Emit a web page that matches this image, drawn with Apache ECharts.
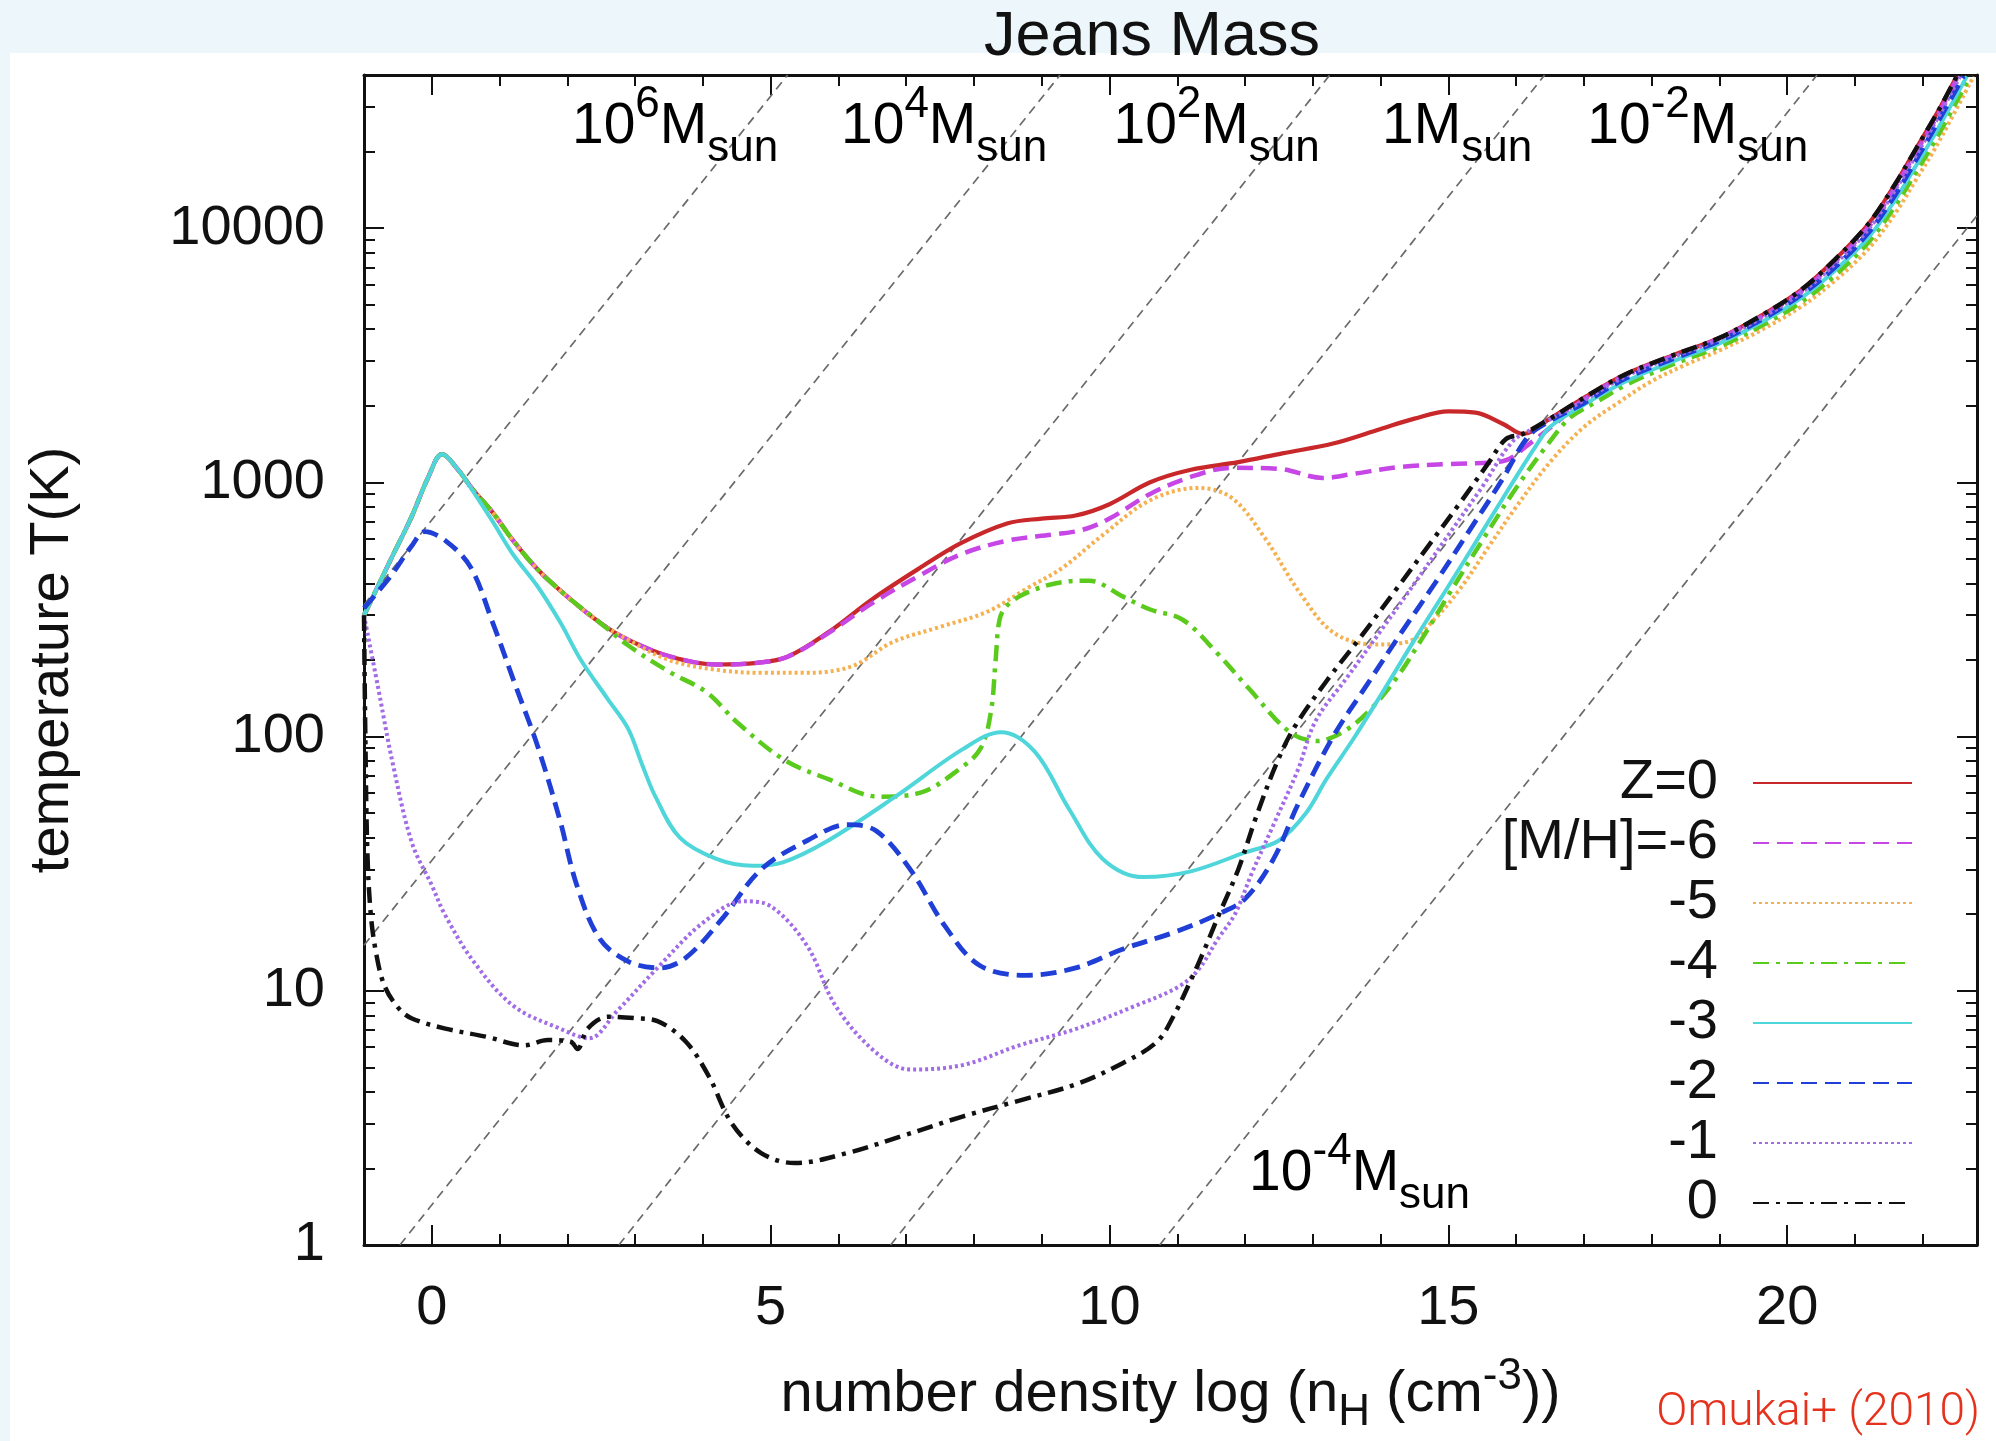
<!DOCTYPE html>
<html><head><meta charset="utf-8">
<script src="https://cdn.jsdelivr.net/npm/echarts@6/dist/echarts.min.js"></script>
<style>
html,body{margin:0;padding:0;background:#edf6fa;width:1996px;height:1441px;overflow:hidden;}
#paper{position:absolute;left:10px;top:53px;width:1986px;height:1388px;background:#fff;}
#chart{position:absolute;left:0;top:0;width:1996px;height:1441px;}
</style></head><body>
<div id="paper"></div><div id="chart"></div>
<script>
// ---------- axis ranges & ticks ----------
const xMin = -1, xMax = 22.8, yMin = 1, yMax = 40000;
const xMajorTicks = [0, 5, 10, 15, 20];
const xMinorTicks = [0,1,2,3,4,5,6,7,8,9,10,11,12,13,14,15,16,17,18,19,20,21,22];
const yMajorTicks = [1, 10, 100, 1000, 10000];
const yMinorTicks = [2,3,4,5,6,7,8,9,20,30,40,50,60,70,80,90,200,300,400,500,600,700,800,900,
  2000,3000,4000,5000,6000,7000,8000,9000,20000,30000];

// ---------- series (log nH, T) ----------
const seriesNames = ['Z=0', '[M/H]=-6', '-5', '-4', '-3', '-2', '-1', '0'];

const zZero = [[-1,300],[-0.6,500],[-0.3,730],[-0.05,1050],[0.15,1290],[0.4,1110],[0.6,940],[0.9,760],[1.2,590],[1.56,455],[2.0,355],[2.5,278],[2.9,240],[3.5,207],[4.2,192],[4.8,195],[5.25,206],[5.85,257],[6.5,347],[7.2,460],[7.8,575],[8.5,690],[9.0,720],[9.5,740],[10.0,820],[10.6,1000],[11.2,1120],[11.9,1200],[12.55,1300],[13.3,1420],[14.0,1620],[14.5,1780],[15.0,1900],[15.4,1880],[15.8,1700],[16.1,1550],[16.5,1780],[17.0,2150],[17.6,2650],[18.3,3150],[19.0,3700],[19.6,4500],[20.2,5700],[20.7,7500],[21.2,10400],[21.6,15000],[21.9,20500],[22.2,28000],[22.5,39500]];

const mhM6 = [[-1,300],[-0.6,500],[-0.3,730],[-0.05,1050],[0.15,1290],[0.4,1110],[0.6,940],[0.9,760],[1.2,590],[1.56,455],[2.0,355],[2.5,278],[2.9,240],[3.5,207],[4.2,192],[4.8,195],[5.25,206],[5.85,255],[6.5,335],[7.2,430],[7.8,520],[8.5,590],[9.2,625],[9.6,650],[10.0,720],[10.6,900],[11.2,1050],[11.8,1140],[12.5,1130],[13.15,1040],[13.6,1080],[14.3,1150],[15.0,1180],[15.8,1210],[16.2,1420],[16.6,1720],[17.0,2120],[17.6,2630],[18.3,3120],[19.0,3680],[19.6,4450],[20.2,5620],[20.7,7350],[21.2,10100],[21.6,14600],[21.9,19900],[22.2,27200],[22.52,39500]];

const mhM5 = [[-1,300],[-0.6,500],[-0.3,730],[-0.05,1050],[0.15,1290],[0.4,1110],[0.6,940],[0.9,760],[1.2,590],[1.56,455],[2.0,355],[2.5,278],[2.9,240],[3.5,200],[4.2,183],[4.9,178],[5.5,178],[6.2,189],[6.8,235],[7.5,270],[8.2,310],[8.8,385],[9.3,460],[9.9,620],[10.6,850],[11.3,950],[11.8,870],[12.3,600],[12.8,370],[13.3,257],[13.9,230],[14.4,236],[14.8,290],[15.2,390],[15.6,560],[16.0,800],[16.5,1200],[17.0,1650],[17.5,2050],[18.0,2500],[18.5,2900],[19.0,3300],[19.6,3950],[20.2,4900],[20.7,6200],[21.2,8300],[21.6,11500],[21.9,15500],[22.2,21000],[22.75,39500]];

const mhM4 = [[-1,300],[-0.6,500],[-0.3,730],[-0.05,1050],[0.15,1290],[0.4,1110],[0.6,940],[0.9,760],[1.2,590],[1.56,455],[2.0,355],[2.5,278],[2.9,228],[3.5,180],[4.06,149],[4.5,114],[5.2,81],[5.85,68],[6.6,58],[7.2,60],[7.8,75],[8.1,90],[8.25,125],[8.32,200],[8.38,290],[8.5,330],[8.8,370],[9.3,405],[9.7,410],[10.2,355],[10.6,316],[11.08,288],[11.58,214],[12.07,153],[12.66,104],[13.06,96],[13.44,104],[13.8,124],[14.2,165],[14.6,240],[15.0,360],[15.5,590],[16.0,950],[16.5,1450],[16.8,1800],[17.2,2080],[17.6,2400],[18.3,2900],[19.0,3420],[19.6,4100],[20.2,5100],[20.7,6500],[21.2,8800],[21.6,12300],[21.9,16600],[22.2,22500],[22.7,39500]];

const mhM3 = [[-1,300],[-0.6,500],[-0.3,730],[-0.05,1050],[0.15,1290],[0.4,1110],[0.6,930],[0.9,700],[1.2,520],[1.56,390],[1.9,280],[2.2,200],[2.6,140],[2.9,107],[3.1,78],[3.3,58],[3.66,40],[4.2,33],[4.73,31],[5.18,32],[5.85,39],[6.84,58],[7.83,89],[8.4,104],[8.9,87],[9.4,52],[9.9,33],[10.5,28],[11.2,29.5],[12.0,35],[12.5,39],[12.9,50],[13.2,68],[13.6,98],[14.0,145],[14.5,240],[15.0,390],[15.5,640],[16.0,1050],[16.3,1400],[16.5,1650],[17.0,2020],[17.6,2480],[18.3,2980],[19.0,3520],[19.6,4230],[20.2,5300],[20.7,6800],[21.2,9200],[21.6,13000],[21.9,17600],[22.2,24000],[22.65,39500]];

const mhM2 = [[-1,320],[-0.6,430],[-0.3,560],[-0.1,640],[0.2,590],[0.57,465],[0.9,280],[1.23,160],[1.56,92],[1.89,47],[2.14,26],[2.48,16],[2.91,13],[3.37,12.3],[3.75,13.5],[4.27,19],[4.86,30],[5.54,39],[6.13,45],[6.56,42.5],[7.06,30],[7.57,18],[8.08,12.6],[8.76,11.5],[9.5,12.3],[10.2,14.6],[10.96,17],[11.6,20],[12.0,23],[12.42,33],[12.78,54],[13.3,100],[13.8,160],[14.3,255],[14.8,400],[15.3,640],[15.8,1030],[16.1,1420],[16.3,1620],[17.0,2050],[17.6,2550],[18.3,3050],[19.0,3600],[19.6,4330],[20.2,5450],[20.7,7000],[21.2,9600],[21.6,13600],[21.9,18500],[22.2,25500],[22.6,39500]];

const mhM1 = [[-1,300],[-0.8,160],[-0.57,77],[-0.29,38],[0.0,26],[0.19,20],[0.62,13],[1.21,8.7],[1.89,7.1],[2.32,6.5],[2.73,8.3],[3.33,12.3],[4.0,18.5],[4.6,22.5],[5.0,21.5],[5.54,15],[5.96,8.7],[6.56,5.7],[7.06,4.9],[7.83,5.1],[8.67,6.1],[9.52,7.1],[10.37,8.7],[11.0,10.3],[11.3,12],[11.6,16],[11.85,20],[12.1,29],[12.42,45],[12.78,74],[13.04,115],[13.5,170],[14.0,260],[14.5,400],[15.0,620],[15.5,960],[15.95,1450],[16.3,1650],[17.0,2100],[17.6,2600],[18.3,3100],[19.0,3650],[19.6,4400],[20.2,5550],[20.7,7200],[21.2,9900],[21.6,14200],[21.9,19300],[22.2,26500],[22.55,39500]];

const mhZero = [[-1,300],[-0.98,100],[-0.95,35],[-0.9,20],[-0.82,14],[-0.7,10.5],[-0.5,8.6],[-0.3,7.8],[0.2,7.1],[0.8,6.6],[1.37,6.1],[1.71,6.4],[2.05,6.3],[2.15,5.9],[2.3,7.1],[2.6,7.9],[3.0,7.8],[3.33,7.6],[3.75,6.3],[4.09,4.6],[4.43,3.0],[4.86,2.3],[5.36,2.1],[6.13,2.3],[6.97,2.7],[7.83,3.2],[8.67,3.7],[9.52,4.3],[10.2,5.2],[10.7,6.3],[10.95,8],[11.2,11],[11.4,14.5],[11.6,19.5],[11.9,30],[12.16,48],[12.47,79],[12.73,109],[13.2,165],[13.7,245],[14.2,370],[14.7,560],[15.2,850],[15.6,1200],[15.85,1480],[16.1,1550],[16.5,1780],[17.0,2150],[17.6,2650],[18.3,3150],[19.0,3700],[19.6,4500],[20.2,5700],[20.7,7500],[21.2,10400],[21.6,15000],[21.9,20500],[22.2,28000],[22.5,39500]];

const seriesData = [zZero, mhM6, mhM5, mhM4, mhM3, mhM2, mhM1, mhZero];

// ---------- Jeans-mass reference lines (end points) ----------
const jeansLines = [
  [[-1, 330], [5.25, 40000]],
  [[-1, 15.1], [9.27, 40000]],
  [[-0.47, 1], [13.25, 40000]],
  [[2.76, 1], [16.42, 40000]],
  [[6.77, 1], [20.44, 40000]],
  [[10.74, 1], [22.8, 11200]]
];
const jeansLabelX = [3.59, 7.56, 11.58, 15.13, 18.68, 13.69];
const jeansLabelT = [24900, 24900, 24900, 24900, 24900, 1.9];
const jeansLabelBase = ['10', '10', '10', '1', '10', '10'];
const jeansLabelExp = ['6', '4', '2', '', '-2', '-4'];

// ---------- styles ----------
const FONT = 'Liberation Sans';
const INK = '#111111';
const lineStyles = [
  {color:'#c8282a', type:'solid', width:4.2},
  {color:'#c646e6', type:[16,8], width:4.5},
  {color:'#f5b150', type:[3,3], width:4},
  {color:'#5acb1c', type:[16,7,4,7], width:4.5},
  {color:'#4fd6da', type:'solid', width:4},
  {color:'#1f3fd6', type:[16,8], width:4.8},
  {color:'#a26ce6', type:[3,3], width:4},
  {color:'#111111', type:[16,7,4,7], width:4.5}
];

function xAxisCfg(position, ticks, len, showLine, showLabel) {
  return {
    type:'value', position, min:xMin, max:xMax,
    axisLine:{show:showLine, onZero:false, lineStyle:{color:INK, width:3}},
    axisTick:{show:true, inside:true, length:len, customValues:ticks, lineStyle:{color:INK, width:2}},
    axisLabel:{show:showLabel, customValues:ticks, fontSize:56, lineHeight:56, fontFamily:FONT, color:INK, margin:36},
    splitLine:{show:false}, minorTick:{show:false}
  };
}
function yAxisCfg(position, ticks, len, showLine, showLabel) {
  return {
    type:'log', logBase:10, position, min:yMin, max:yMax,
    axisLine:{show:showLine, onZero:false, lineStyle:{color:INK, width:3}},
    axisTick:{show:true, inside:true, length:len, customValues:ticks, lineStyle:{color:INK, width:2}},
    axisLabel:{show:showLabel, customValues:ticks, fontSize:56, fontFamily:FONT, color:INK, margin:39,
      formatter:(v)=>String(Math.round(v))},
    splitLine:{show:false}, minorTick:{show:false}
  };
}

const xAxes = [
  xAxisCfg('bottom', xMajorTicks, 20, true, true),
  xAxisCfg('top', xMajorTicks, 20, true, false),
  xAxisCfg('bottom', xMinorTicks, 11, false, false),
  xAxisCfg('top', xMinorTicks, 11, false, false)
];
Object.assign(xAxes[0], {
  name:'{t|number density log (n}{s|H}{t| (cm}{p|-3}{t|))}',
  nameLocation:'middle', nameGap:110,
  nameTextStyle:{rich:{
    t:{fontSize:58, fontFamily:FONT, color:INK, lineHeight:80},
    s:{fontSize:44, fontFamily:FONT, color:INK, lineHeight:44, verticalAlign:'bottom'},
    p:{fontSize:44, fontFamily:FONT, color:INK, lineHeight:44, verticalAlign:'top'}
  }}
});
const yAxes = [
  yAxisCfg('left', yMajorTicks, 20, true, true),
  yAxisCfg('right', yMajorTicks, 20, true, false),
  yAxisCfg('left', yMinorTicks, 11, false, false),
  yAxisCfg('right', yMinorTicks, 11, false, false)
];
Object.assign(yAxes[0], {
  name:'temperature T(K)', nameLocation:'middle', nameGap:283, nameRotate:90,
  nameTextStyle:{fontSize:56, fontFamily:FONT, color:INK, lineHeight:56}
});

const series = [];
jeansLines.forEach((pts, i) => {
  series.push({
    type:'line', name:'jeans'+i, data:pts, xAxisIndex:0, yAxisIndex:0,
    symbol:'none', silent:true, z:1,
    lineStyle:{color:'#6a6a6a', width:1.7, type:[9,6]}
  });
});
seriesData.forEach((d, i) => {
  series.push({
    type:'line', name:seriesNames[i], data:d, xAxisIndex:0, yAxisIndex:0,
    symbol:'none', smooth:0.35, z:3+i,
    lineStyle:lineStyles[i], itemStyle:{color:lineStyles[i].color},
    emphasis:{disabled:true}
  });
});
const richLabel = {
  m:{fontSize:57, fontFamily:FONT, color:'#000', lineHeight:88, opacity:1},
  sup:{fontSize:44, fontFamily:FONT, color:'#000', lineHeight:44, verticalAlign:'top', opacity:1},
  sub:{fontSize:44, fontFamily:FONT, color:'#000', lineHeight:44, verticalAlign:'bottom', opacity:1}
};
series.push({
  type:'scatter', name:'jeansLabels', xAxisIndex:0, yAxisIndex:0, silent:true, z:20,
  symbol:'circle', symbolSize:0.01, itemStyle:{color:'#000', opacity:1},
  emphasis:{disabled:true},
  data: jeansLabelX.map((x, i) => [x, jeansLabelT[i]]),
  label:{show:true, position:[0,0], align:'center', verticalAlign:'middle', color:'#000', opacity:1,
    textBorderWidth:0, textShadowBlur:0,
    formatter:(p) => {
      const i = p.dataIndex;
      return '{m|' + jeansLabelBase[i] + '}' + (jeansLabelExp[i] ? '{sup|' + jeansLabelExp[i] + '}' : '') + '{m|M}{sub|sun}';
    },
    rich:richLabel
  }
});

const chart = echarts.init(document.getElementById('chart'), null, {renderer:'canvas', width:1996, height:1441});
chart.setOption({
  backgroundColor:'transparent',
  animation:false,
  grid:{left:364, right:19, top:75, bottom:196, containLabel:false, outerBoundsMode:'none'},
  xAxis:xAxes,
  yAxis:yAxes,
  legend:{
    data:seriesNames, orient:'vertical', align:'right', right:83, top:753, padding:0, itemGap:0,
    itemWidth:159, itemHeight:14, selectedMode:false,
    textStyle:{fontSize:56, fontFamily:FONT, color:INK, lineHeight:60, padding:[0,30,0,0]},
    itemStyle:{opacity:0}
  },
  graphic:[
    {type:'text', x:1152, y:38, z:50, style:{text:'Jeans Mass', font:'63px "Liberation Sans"', fill:INK, align:'center', verticalAlign:'middle'}},
    {type:'text', x:1980, y:1413, z:50, style:{text:'Omukai+ (2010)', font:'300 46px Roboto', fill:'#e6321c', align:'right', verticalAlign:'middle'}}
  ],
  series
});
</script>
</body></html>
